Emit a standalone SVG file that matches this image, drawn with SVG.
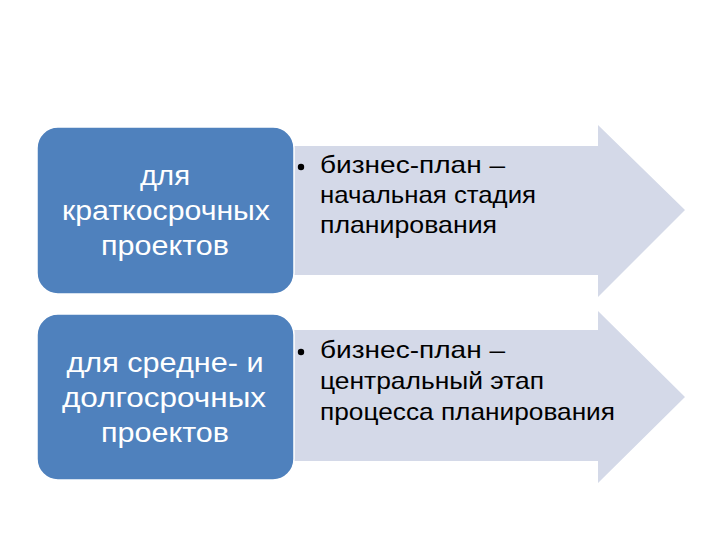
<svg xmlns="http://www.w3.org/2000/svg" width="720" height="540" viewBox="0 0 720 540">
<style>
.box{fill:#4F81BD;stroke:#ffffff;stroke-width:1.5}
.arr{fill:#D4D9E8}
.bt{font-family:"Liberation Sans",Arial,sans-serif;font-size:28px;fill:#ffffff;text-anchor:middle}
.at{font-family:"Liberation Sans",Arial,sans-serif;font-size:24px;fill:#000000}
</style>
<rect width="720" height="540" fill="#ffffff"/>
<g id="connectors">
<polygon id="arrow1" class="arr" points="290,146 598,146 598,125 685,210 598,297 598,275 290,275"/>
<polygon id="arrow2" class="arr" points="290,330 598,330 598,311 685,397 598,483 598,461 290,461"/>
</g>
<g id="node1">
<rect class="box" x="37" y="127" width="257" height="167" rx="21"/>
<text class="bt" x="165" y="185" textLength="50" lengthAdjust="spacingAndGlyphs">для</text>
<text class="bt" x="166" y="220" textLength="208" lengthAdjust="spacingAndGlyphs">краткосрочных</text>
<text class="bt" x="165" y="255" textLength="128" lengthAdjust="spacingAndGlyphs">проектов</text>
</g>
<g id="node2">
<rect class="box" x="37" y="314" width="257" height="166" rx="21"/>
<text class="bt" x="165" y="372" textLength="197" lengthAdjust="spacingAndGlyphs">для средне- и</text>
<text class="bt" x="164" y="407" textLength="204" lengthAdjust="spacingAndGlyphs">долгосрочных</text>
<text class="bt" x="165" y="442" textLength="128" lengthAdjust="spacingAndGlyphs">проектов</text>
</g>
<g id="text1">
<circle cx="301" cy="167" r="3.2" fill="#000"/>
<text class="at" x="320" y="173" textLength="185" lengthAdjust="spacingAndGlyphs">бизнес-план –</text>
<text class="at" x="320" y="203" textLength="216" lengthAdjust="spacingAndGlyphs">начальная стадия</text>
<text class="at" x="320" y="233" textLength="177" lengthAdjust="spacingAndGlyphs">планирования</text>
</g>
<g id="text2">
<circle cx="301" cy="352" r="3.2" fill="#000"/>
<text class="at" x="320" y="358" textLength="185" lengthAdjust="spacingAndGlyphs">бизнес-план –</text>
<text class="at" x="320" y="389" textLength="224" lengthAdjust="spacingAndGlyphs">центральный этап</text>
<text class="at" x="320" y="420" textLength="295" lengthAdjust="spacingAndGlyphs">процесса планирования</text>
</g>
</svg>
